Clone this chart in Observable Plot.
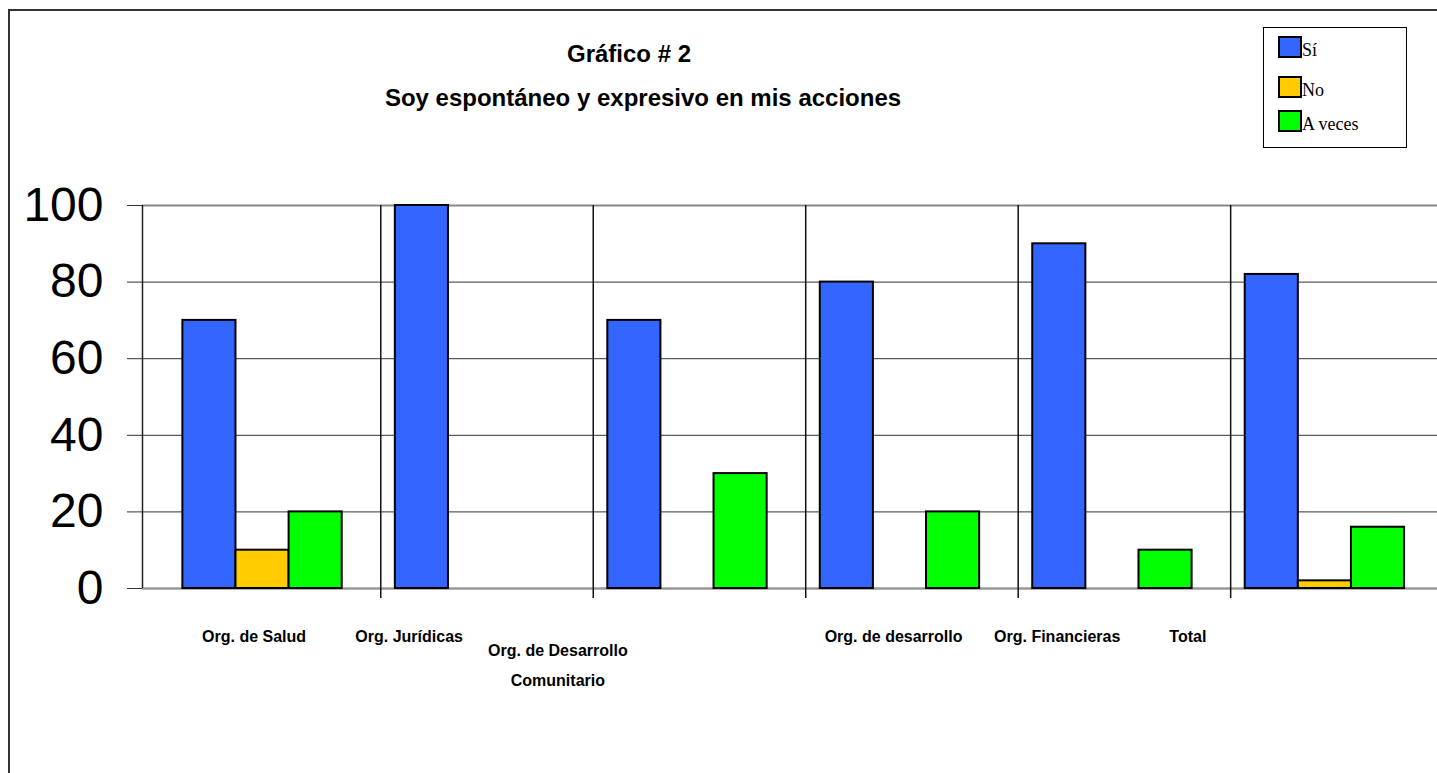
<!DOCTYPE html>
<html>
<head>
<meta charset="utf-8">
<script src="https://cdn.jsdelivr.net/npm/d3@7"></script>
<script src="https://cdn.jsdelivr.net/npm/@observablehq/plot@0.6"></script>
<style>
  html, body { margin: 0; padding: 0; background: #fff; overflow: hidden; }
  #wrap { position: relative; width: 1437px; height: 773px; overflow: hidden; background: #fff; }
  #border { position: absolute; left: 8px; top: 9px; width: 1500px; height: 900px; border: 2px solid #333; box-sizing: border-box; pointer-events: none; }
  #chart { position: absolute; left: 0; top: 0; }
  .title { position: absolute; font-family: "Liberation Sans", Arial, sans-serif; font-weight: bold; font-size: 24px; line-height: 40px; white-space: nowrap; transform: translateX(-50%); color: #000; }
  #legend { position: absolute; left: 1263px; top: 27px; width: 144px; height: 121px; border: 1.5px solid #000; box-sizing: border-box; background: #fff; font-family: "Liberation Serif", "Times New Roman", serif; font-size: 18px; }
  .item { position: absolute; left: 14px; display: flex; align-items: flex-end; line-height: 18px; }
  .item span { position: relative; top: 1px; }
  .sw { width: 24px; height: 22px; border: 2px solid #000; box-sizing: border-box; }
</style>
</head>
<body>
<div id="wrap">
  <div id="chart"></div>
  <div id="border"></div>
  <div class="title" style="left:629px; top:34px;">Gráfico # 2</div>
  <div class="title" style="left:643px; top:78px;">Soy espontáneo y expresivo en mis acciones</div>
  <div id="legend"></div>
</div>
<script>
// ---- data ----
const categories = ["Org. de Salud", "Org. Jurídicas", "Org. de Desarrollo\nComunitario", "Org. de desarrollo", "Org. Financieras", "Total"];
const seriesNames = ["Sí", "No", "A veces"];
const valuesSi = [70, 100, 70, 80, 90, 82];
const valuesNo = [10, 0, 0, 0, 0, 2];
const valuesAVeces = [20, 0, 30, 20, 10, 16];
const yTicks = [0, 20, 40, 60, 80, 100];

// ---- layout / style (not data) ----
const seriesColors = ["#3366FF", "#FFCC00", "#00FF00"];
const labelShift = [-0.04, -0.31, -0.61, -0.03, -0.26, -0.645]; // category units, label nudges as in the source
const barWidth = 0.25; // category units (gap width 100%)

const seriesValues = [valuesSi, valuesNo, valuesAVeces];
const rows = [];
categories.forEach((cat, ci) => {
  seriesNames.forEach((s, si) => {
    rows.push({cat, ci, series: s, si, value: seriesValues[si][ci]});
  });
});
const labels = categories.map((c, i) => ({label: c, x: i + labelShift[i], multi: c.includes("\n")}));
const dividers = d3.range(categories.length - 1).map(i => i + 0.5);

const chart = Plot.plot({
  width: 1437,
  height: 773,
  marginLeft: 142,
  marginRight: 0,
  marginTop: 205,
  marginBottom: 185,
  style: {background: "#fff", fontFamily: "'Liberation Sans', Arial, sans-serif"},
  x: {domain: [-0.565, 5.53], axis: null},
  y: {domain: [0, 100], axis: null},
  color: {domain: seriesNames, range: seriesColors},
  marks: [
    Plot.ruleY([20, 40, 60, 80], {stroke: "#333", strokeWidth: 1}),
    Plot.ruleY([100], {stroke: "#888", strokeWidth: 2}),
    Plot.ruleY([0], {stroke: "#999", strokeWidth: 2.5}),
    Plot.axisY({ticks: yTicks, tickSize: 15, tickPadding: 24, fontSize: 48, color: "#000", stroke: "#333", label: null}),
    Plot.ruleX([-0.565], {y1: 0, y2: 100, stroke: "#222", strokeWidth: 1.5}),
    Plot.ruleX(dividers, {y1: -2.6, y2: 100, dx: 12, stroke: "#111", strokeWidth: 1.5}),
    Plot.rect(rows.filter(d => d.value > 0), {
      x1: d => d.ci + (d.si - 1.5) * barWidth,
      x2: d => d.ci + (d.si - 0.5) * barWidth,
      y1: 0,
      y2: "value",
      fill: "series",
      stroke: "#000",
      strokeWidth: 2
    }),
    Plot.text(labels.filter(d => !d.multi), {x: "x", text: "label", frameAnchor: "bottom", dy: 48, lineAnchor: "middle", fontSize: 16, fontWeight: "bold", fill: "#000"}),
    Plot.text(labels.filter(d => d.multi), {x: "x", text: "label", frameAnchor: "bottom", dy: 73, lineAnchor: "middle", lineHeight: 1.875, fontSize: 16, fontWeight: "bold", fill: "#000"})
  ]
});
document.getElementById("chart").appendChild(chart);

// legend
const legend = document.getElementById("legend");
const legendTops = [8, 48, 82];
seriesNames.forEach((s, i) => {
  const item = document.createElement("div");
  item.className = "item";
  item.style.top = legendTops[i] + "px";
  const sw = document.createElement("div");
  sw.className = "sw";
  sw.style.background = seriesColors[i];
  const t = document.createElement("span");
  t.textContent = s;
  item.appendChild(sw);
  item.appendChild(t);
  legend.appendChild(item);
});
</script>
</body>
</html>
